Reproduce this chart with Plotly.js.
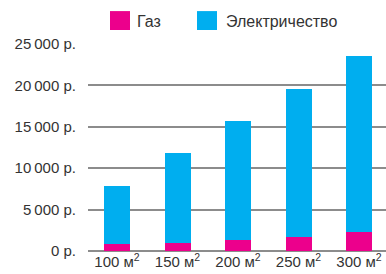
<!DOCTYPE html>
<html><head><meta charset="utf-8">
<script src="https://cdn.plot.ly/plotly-3.0.1.min.js"></script>
<style>html,body{margin:0;padding:0;background:#fff}#c{width:386px;height:274px}</style>
</head><body><div id="c"></div>
<script>
const categories = ['100 м<sup>2</sup>', '150 м<sup>2</sup>', '200 м<sup>2</sup>', '250 м<sup>2</sup>', '300 м<sup>2</sup>'];
const gas = [800, 1000, 1300, 1650, 2350];
const electricity = [7000, 10800, 14400, 17950, 21150];
const yTickVals = [0, 5000, 10000, 15000, 20000, 25000];
const yTickText = ['0 р.', '5\u2009000 р.', '10\u2009000 р.', '15\u2009000 р.', '20\u2009000 р.', '25\u2009000 р.'];
const seriesNames = ['Газ', 'Электричество'];
const colors = ['#EC008C', '#00AEEF'];

const FONT = 'Liberation Sans, Arial, sans-serif';
const idx = categories.map((_, i) => i);

const data = [
  {type: 'bar', x: idx, y: gas, name: seriesNames[0], marker: {color: colors[0]}, width: 0.43},
  {type: 'bar', x: idx, y: electricity, name: seriesNames[1], marker: {color: colors[1]}, width: 0.43}
];

const layout = {
  width: 386, height: 274,
  margin: {l: 88, r: 0, t: 44, b: 23, pad: 0},
  barmode: 'stack',
  showlegend: false,
  paper_bgcolor: '#fff', plot_bgcolor: '#fff',
  font: {family: FONT, size: 15, color: '#333'},
  xaxis: {
    range: [-0.48, 4.446],
    tickvals: idx, ticktext: categories,
    showgrid: false, zeroline: false, showline: false,
    ticks: '', tickfont: {family: FONT, size: 15, color: '#333'}
  },
  yaxis: {
    range: [0, 25000],
    tickvals: yTickVals, ticktext: yTickText,
    showgrid: true, gridcolor: '#8c8c8c', gridwidth: 2,
    zeroline: true, zerolinecolor: '#8c8c8c', zerolinewidth: 2,
    showline: false, ticks: 'outside', ticklen: 8, tickcolor: 'rgba(0,0,0,0)',
    tickfont: {family: FONT, size: 15, color: '#333'}
  },
  shapes: [
    {type: 'rect', xref: 'paper', yref: 'paper', x0: 0.0738, x1: 0.141, y0: 1.0676, y1: 1.159, fillcolor: colors[0], line: {width: 0}},
    {type: 'rect', xref: 'paper', yref: 'paper', x0: 0.3658, x1: 0.4329, y0: 1.0676, y1: 1.159, fillcolor: colors[1], line: {width: 0}}
  ],
  annotations: [
    {xref: 'paper', yref: 'paper', x: 0.1577, y: 1.111, xanchor: 'left', yanchor: 'middle', text: seriesNames[0], showarrow: false, font: {family: FONT, size: 16, color: '#333'}},
    {xref: 'paper', yref: 'paper', x: 0.4564, y: 1.111, xanchor: 'left', yanchor: 'middle', text: seriesNames[1], showarrow: false, font: {family: FONT, size: 16, color: '#333'}}
  ]
};

Plotly.newPlot('c', data, layout, {displayModeBar: false, staticPlot: true});
</script></body></html>
